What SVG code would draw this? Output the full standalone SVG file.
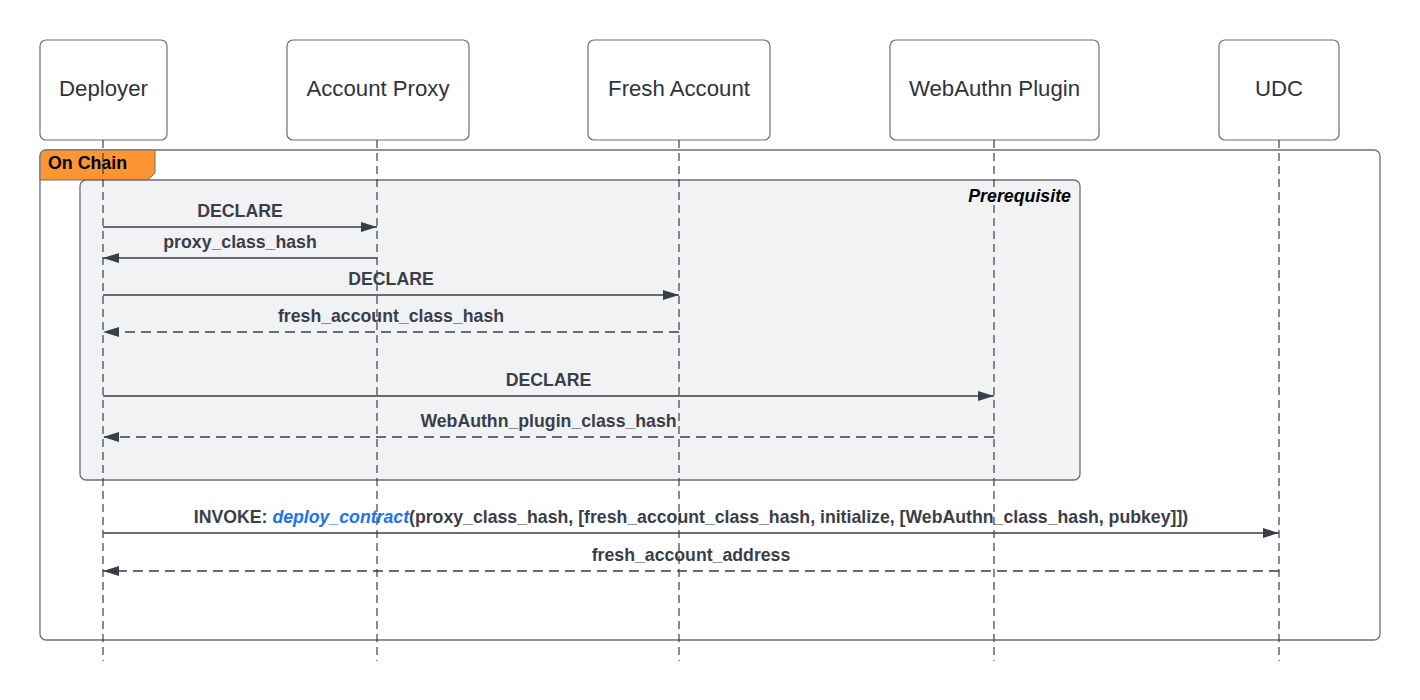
<svg xmlns="http://www.w3.org/2000/svg" width="1420" height="700" viewBox="0 0 1420 700">
<defs>
<marker id="ah" viewBox="0 0 16 10" refX="16" refY="5" markerWidth="16" markerHeight="10" markerUnits="userSpaceOnUse" orient="auto-start-reverse">
<path d="M0,0 L16,5 L0,10 Z" fill="#3a3e48"/>
</marker>
</defs>
<style>
.actor{fill:#ffffff;stroke:#6b6f78;stroke-width:1.2}
.alabel{font-family:"Liberation Sans",Arial,sans-serif;font-size:22.2px;fill:#2f333c;text-anchor:middle}
.life{stroke:#3a3e48;stroke-width:1.2;stroke-dasharray:8 5;fill:none}
.msg{stroke:#3a3e48;stroke-width:1.3;fill:none}
.ret{stroke:#3a3e48;stroke-width:1.3;fill:none;stroke-dasharray:10 6}
.mlabel{font-family:"Liberation Sans",Arial,sans-serif;font-size:17.7px;font-weight:bold;fill:#3a3e48;text-anchor:middle}
.frame{fill:none;stroke:#6b6f78;stroke-width:1.3}
</style>
<rect width="1420" height="700" fill="#ffffff"/>
<g id="frame-onchain">
<rect x="40" y="150" width="1340" height="490" rx="6" class="frame"/>
<path d="M40,156 Q40,150 46,150 L155,150 L155,173 L148,180 L40,180 Z" fill="#fd9632" stroke="#6b6f78" stroke-width="1"/>
<text x="48" y="169" font-family="'Liberation Sans',Arial,sans-serif" font-size="17.8" font-weight="bold" fill="#000000">On Chain</text>
</g>
<g id="frame-prerequisite">
<rect x="80" y="180" width="1000" height="300" rx="6" fill="#f1f2f4" stroke="#6b6f78" stroke-width="1.3"/>
<text x="1071" y="202" font-family="'Liberation Sans',Arial,sans-serif" font-size="17.8" font-weight="bold" font-style="italic" fill="#000000" text-anchor="end">Prerequisite</text>
</g>
<g id="actor-deployer">
<rect x="40" y="40" width="127" height="100" rx="6" class="actor"/>
<text x="103.5" y="96" class="alabel">Deployer</text>
</g>
<g id="actor-account-proxy">
<rect x="287" y="40" width="182" height="100" rx="6" class="actor"/>
<text x="378" y="96" class="alabel">Account Proxy</text>
</g>
<g id="actor-fresh-account">
<rect x="588" y="40" width="182" height="100" rx="6" class="actor"/>
<text x="679" y="96" class="alabel">Fresh Account</text>
</g>
<g id="actor-webauthn-plugin">
<rect x="890" y="40" width="209" height="100" rx="6" class="actor"/>
<text x="994.5" y="96" class="alabel">WebAuthn Plugin</text>
</g>
<g id="actor-udc">
<rect x="1219" y="40" width="120" height="100" rx="6" class="actor"/>
<text x="1279" y="96" class="alabel">UDC</text>
</g>
<g id="connectors">
<text x="240" y="217" class="mlabel">DECLARE</text>
<line x1="103" y1="227" x2="377" y2="227" class="msg" marker-end="url(#ah)"/>
<text x="240" y="248" class="mlabel">proxy_class_hash</text>
<line x1="377" y1="258" x2="103" y2="258" class="msg" marker-end="url(#ah)"/>
<text x="391" y="285" class="mlabel">DECLARE</text>
<line x1="103" y1="295" x2="679" y2="295" class="msg" marker-end="url(#ah)"/>
<text x="391" y="322" class="mlabel">fresh_account_class_hash</text>
<line x1="679" y1="332" x2="103" y2="332" class="ret" marker-end="url(#ah)"/>
<text x="548.5" y="386" class="mlabel">DECLARE</text>
<line x1="103" y1="396" x2="994" y2="396" class="msg" marker-end="url(#ah)"/>
<text x="548.5" y="427" class="mlabel">WebAuthn_plugin_class_hash</text>
<line x1="994" y1="437" x2="103" y2="437" class="ret" marker-end="url(#ah)"/>
<text x="691" y="523" class="mlabel">INVOKE: <tspan fill="#1a73e8" font-style="italic">deploy_contract</tspan>(proxy_class_hash, [fresh_account_class_hash, initialize, [WebAuthn_class_hash, pubkey]])</text>
<line x1="103" y1="533" x2="1279" y2="533" class="msg" marker-end="url(#ah)"/>
<text x="691" y="561" class="mlabel">fresh_account_address</text>
<line x1="1279" y1="571" x2="103" y2="571" class="ret" marker-end="url(#ah)"/>
</g>
<g id="lifelines">
<line x1="103" y1="140" x2="103" y2="661" class="life"/>
<line x1="377" y1="140" x2="377" y2="661" class="life"/>
<line x1="679" y1="140" x2="679" y2="661" class="life"/>
<line x1="994" y1="140" x2="994" y2="661" class="life"/>
<line x1="1279" y1="140" x2="1279" y2="661" class="life"/>
</g>
</svg>
